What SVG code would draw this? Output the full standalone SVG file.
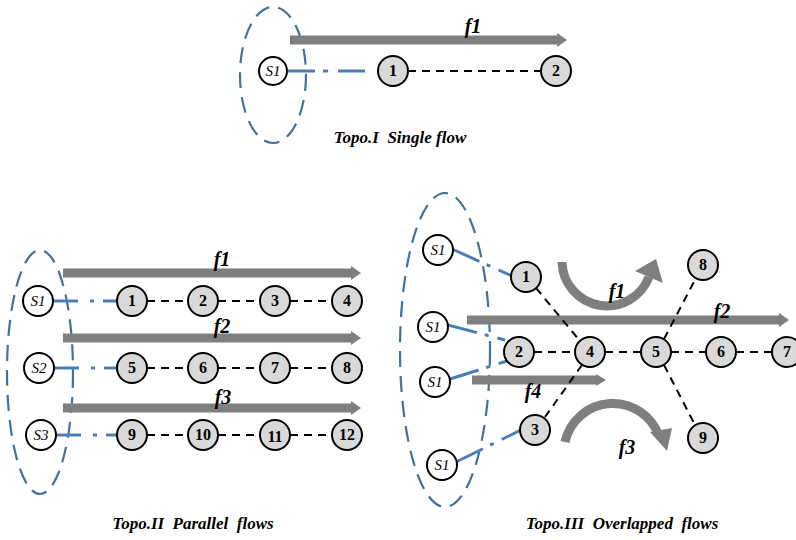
<svg xmlns="http://www.w3.org/2000/svg" width="796" height="540" viewBox="0 0 796 540">
  <defs>
    <style>
      .bg { fill: #ffffff; }
      .domain { fill: none; stroke: #41719c; stroke-width: 2.2; stroke-dasharray: 16 9; }
      .node circle { fill: #d9d9d9; stroke: #000; stroke-width: 2; }
      .src circle { fill: #ffffff; stroke: #000; stroke-width: 2; }
      .node text { font-family: "Liberation Serif", "Times New Roman", "DejaVu Serif", serif; font-weight: bold; font-size: 16px; text-anchor: middle; fill: #000; }
      .src text { font-family: "Liberation Serif", "Times New Roman", "DejaVu Serif", serif; font-style: italic; font-size: 15px; text-anchor: middle; fill: #000; }
      .link { fill: none; stroke: #000; stroke-width: 2; stroke-dasharray: 8 6; }
      .access { fill: none; stroke: #4a7ebb; stroke-width: 3; }
      .flow { fill: none; stroke: #7f7f7f; stroke-width: 9; }
      .flowhead { fill: #7f7f7f; }
      .flabel { font-family: "Liberation Serif", "Times New Roman", "DejaVu Serif", serif; font-weight: bold; font-style: italic; font-size: 20px; text-anchor: middle; fill: #000; }
      .caption { font-family: "Liberation Serif", "Times New Roman", "DejaVu Serif", serif; font-weight: bold; font-style: italic; font-size: 17px; text-anchor: middle; fill: #000; }
    </style>
  </defs>

  <rect class="bg" x="0" y="0" width="796" height="540"/>

  <!-- ===== Topo.I : single flow ===== -->
  <g id="topo1">
    <ellipse id="t1-domain" class="domain" cx="273" cy="75" rx="33" ry="68"/>
    <g id="t1-flows">
      <path class="flow" d="M290 40 H558"/>
      <polygon class="flowhead" points="557,33 567,40 557,47"/>
      <text class="flabel" x="473" y="33">f1</text>
    </g>
    <g id="t1-connectors">
      <path class="access" d="M288 71 H367" stroke-dasharray="27 8 5 10 27"/>
      <path class="link" d="M408 71 H541"/>
    </g>
    <g id="t1-s1" class="src"><circle cx="273" cy="71" r="14"/><text x="273" y="76">S1</text></g>
    <g id="t1-n1" class="node"><circle cx="393" cy="71" r="15"/><text x="393" y="76">1</text></g>
    <g id="t1-n2" class="node"><circle cx="556" cy="71" r="15"/><text x="556" y="76">2</text></g>
    <text class="caption" x="400" y="143" xml:space="preserve">Topo.I  Single flow</text>
  </g>

  <!-- ===== Topo.II : parallel flows ===== -->
  <g id="topo2">
    <ellipse id="t2-domain" class="domain" cx="40" cy="372" rx="33" ry="122"/>
    <g id="t2-flows">
      <path class="flow" d="M63 273 H352"/>
      <polygon class="flowhead" points="351,266 361,273 351,280"/>
      <text class="flabel" x="222" y="266">f1</text>
      <path class="flow" d="M63 338 H352"/>
      <polygon class="flowhead" points="351,331 361,338 351,345"/>
      <text class="flabel" x="222" y="333">f2</text>
      <path class="flow" d="M63 408 H352"/>
      <polygon class="flowhead" points="351,401 361,408 351,415"/>
      <text class="flabel" x="223" y="404">f3</text>
    </g>
    <g id="t2-connectors">
      <path class="access" d="M53 301 H117" stroke-dasharray="25 12 4 9 20"/>
      <path class="access" d="M54 368 H117" stroke-dasharray="25 12 4 9 20"/>
      <path class="access" d="M56 435 H117" stroke-dasharray="25 12 4 9 20"/>
      <path class="link" d="M147 301 H188 M218 301 H260 M290 301 H332"/>
      <path class="link" d="M147 368 H188 M218 368 H260 M290 368 H332"/>
      <path class="link" d="M147 435 H188 M218 435 H260 M290 435 H332"/>
    </g>
    <g id="t2-s1" class="src"><circle cx="38" cy="301" r="15"/><text x="38" y="306">S1</text></g>
    <g id="t2-s2" class="src"><circle cx="39" cy="368" r="15"/><text x="39" y="373">S2</text></g>
    <g id="t2-s3" class="src"><circle cx="41" cy="435" r="15"/><text x="41" y="440">S3</text></g>
    <g id="t2-n1" class="node"><circle cx="132" cy="301" r="15"/><text x="132" y="306">1</text></g>
    <g id="t2-n2" class="node"><circle cx="203" cy="301" r="15"/><text x="203" y="306">2</text></g>
    <g id="t2-n3" class="node"><circle cx="275" cy="301" r="15"/><text x="275" y="306">3</text></g>
    <g id="t2-n4" class="node"><circle cx="347" cy="301" r="15"/><text x="347" y="306">4</text></g>
    <g id="t2-n5" class="node"><circle cx="132" cy="368" r="15"/><text x="132" y="373">5</text></g>
    <g id="t2-n6" class="node"><circle cx="203" cy="368" r="15"/><text x="203" y="373">6</text></g>
    <g id="t2-n7" class="node"><circle cx="275" cy="368" r="15"/><text x="275" y="373">7</text></g>
    <g id="t2-n8" class="node"><circle cx="347" cy="368" r="15"/><text x="347" y="373">8</text></g>
    <g id="t2-n9" class="node"><circle cx="132" cy="435" r="15"/><text x="132" y="440">9</text></g>
    <g id="t2-n10" class="node"><circle cx="203" cy="435" r="15"/><text x="203" y="440">10</text></g>
    <g id="t2-n11" class="node"><circle cx="275" cy="435" r="15"/><text x="275" y="442">11</text></g>
    <g id="t2-n12" class="node"><circle cx="347" cy="435" r="15"/><text x="347" y="440">12</text></g>
    <text class="caption" x="193" y="529" xml:space="preserve">Topo.II  Parallel  flows</text>
  </g>

  <!-- ===== Topo.III : overlapped flows ===== -->
  <g id="topo3">
    <ellipse id="t3-domain" class="domain" cx="445" cy="350" rx="45" ry="157"/>
    <g id="t3-flows">
      <!-- f2 straight -->
      <path class="flow" d="M467 320 H780"/>
      <polygon class="flowhead" points="779,313 789,320 779,327"/>
      <text class="flabel" x="722" y="318">f2</text>
      <!-- f4 straight -->
      <path class="flow" d="M472 380 H597" stroke-width="7"/>
      <polygon class="flowhead" points="596,374 606,380 596,386"/>
      <text class="flabel" x="533" y="398">f4</text>
      <!-- f1 curved, U-turn upward -->
      <path class="flow" stroke-width="10" d="M562 262 A45 45 0 0 0 649 277"/>
      <polygon class="flowhead" points="635,271 656,259 663,283"/>
      <text class="flabel" x="617" y="298">f1</text>
      <!-- f3 curved, arc downward -->
      <path class="flow" stroke-width="10" d="M565 442 A49 49 0 0 1 659 436"/>
      <polygon class="flowhead" points="650,432 672,428 667,451"/>
      <text class="flabel" x="627" y="454">f3</text>
    </g>
    <g id="t3-connectors">
      <path class="access" d="M452 249 L512 276" stroke-dasharray="30 8 4 9 30"/>
      <path class="access" d="M448 325 L505 340" stroke-dasharray="30 8 4 9 30"/>
      <path class="access" d="M450 379 L507 361" stroke-dasharray="30 8 4 9 30"/>
      <path class="access" d="M456 462 L521 430" stroke-dasharray="30 8 4 9 30"/>
      <path class="link" d="M536 288 L580 341"/>
      <path class="link" d="M534 352 H575"/>
      <path class="link" d="M605 352 H641"/>
      <path class="link" d="M671 352 H706"/>
      <path class="link" d="M736 352 H772"/>
      <path class="link" d="M582 365 L545 417"/>
      <path class="link" d="M664 339 L696 278"/>
      <path class="link" d="M664 365 L695 425"/>
    </g>
    <g id="t3-s1a" class="src"><circle cx="438" cy="250" r="15"/><text x="438" y="255">S1</text></g>
    <g id="t3-s1b" class="src"><circle cx="433" cy="327" r="15"/><text x="433" y="332">S1</text></g>
    <g id="t3-s1c" class="src"><circle cx="435" cy="382" r="15"/><text x="435" y="387">S1</text></g>
    <g id="t3-s1d" class="src"><circle cx="442" cy="465" r="15"/><text x="442" y="470">S1</text></g>
    <g id="t3-n1" class="node"><circle cx="526" cy="277" r="15"/><text x="526" y="282">1</text></g>
    <g id="t3-n2" class="node"><circle cx="519" cy="352" r="15"/><text x="519" y="357">2</text></g>
    <g id="t3-n3" class="node"><circle cx="535" cy="430" r="15"/><text x="535" y="435">3</text></g>
    <g id="t3-n4" class="node"><circle cx="590" cy="352" r="15"/><text x="590" y="357">4</text></g>
    <g id="t3-n5" class="node"><circle cx="656" cy="352" r="15"/><text x="656" y="357">5</text></g>
    <g id="t3-n6" class="node"><circle cx="721" cy="352" r="15"/><text x="721" y="357">6</text></g>
    <g id="t3-n7" class="node"><circle cx="787" cy="352" r="15"/><text x="787" y="357">7</text></g>
    <g id="t3-n8" class="node"><circle cx="703" cy="265" r="15"/><text x="703" y="270">8</text></g>
    <g id="t3-n9" class="node"><circle cx="703" cy="438" r="15"/><text x="703" y="443">9</text></g>
    <text class="caption" x="622" y="529" xml:space="preserve">Topo.III  Overlapped  flows</text>
  </g>
</svg>
